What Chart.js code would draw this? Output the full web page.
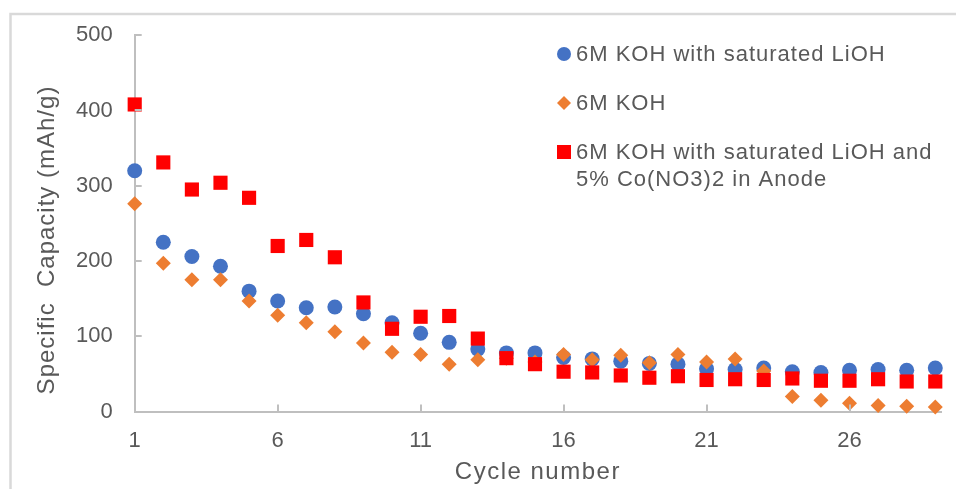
<!DOCTYPE html>
<html>
<head>
<meta charset="utf-8">
<title>Specific capacity vs cycle number</title>
<script src="https://cdn.jsdelivr.net/npm/chart.js@4.4.1/dist/chart.umd.min.js"></script>
<style>
  html, body { margin: 0; padding: 0; background: #fff; }
  #wrap { width: 956px; height: 489px; }
</style>
</head>
<body>
<div id="wrap"><canvas id="capacityChart" width="956" height="489"></canvas></div>
<script>
// cycle index and measured specific capacity (mAh/g) per electrolyte
const cycles = [1, 2, 3, 4, 5, 6, 7, 8, 9, 10, 11, 12, 13, 14, 15, 16, 17, 18, 19, 20, 21, 22, 23, 24, 25, 26, 27, 28, 29];
const withLiOH = [320, 225, 206, 193, 160, 147, 138, 139, 130, 118, 104, 92, 83, 78, 78, 72, 70, 67, 64, 63, 57, 56, 58, 53, 52, 55, 56, 55, 58];
const kohOnly = [276, 197, 175, 175, 147, 128, 118, 106, 91, 79, 76, 63, 69, 71, 66, 76, 69, 75, 65, 76, 66, 70, 54, 20, 15, 11, 8, 7, 6];
const withLiOHCo = [408, 331, 295, 304, 284, 220, 228, 205, 145, 110, 126, 127, 97, 71, 63, 53, 52, 48, 45, 47, 42, 43, 42, 44, 41, 41, 43, 40, 40];

const seriesNames = [
    ['6M KOH with saturated LiOH'],
    ['6M KOH'],
    ['6M KOH with saturated LiOH and', '5% Co(NO3)2 in Anode']
];
const xTickValues = [1, 6, 11, 16, 21, 26];
const xTitle = 'Cycle number';
const yTitle = 'Specific  Capacity (mAh/g)';

const FONT = '"Liberation Sans", Arial, sans-serif';
const TEXT = '#595959';
const AXIS = '#bfbfbf';
const colors = ['#4472C4', '#ED7D31', '#FF0000'];
const styles = ['circle', 'rectRot', 'rect'];

function toPoints(ys) {
    return cycles.map((c, i) => ({ x: c, y: ys[i] }));
}

// outer frame, inward tick marks, axis titles and the legend block
const decorations = {
    id: 'decorations',
    beforeDraw(chart) {
        const ctx = chart.ctx;
        ctx.save();
        ctx.strokeStyle = '#d9d9d9';
        ctx.lineWidth = 2.5;
        ctx.beginPath();
        ctx.moveTo(10.5, 489);
        ctx.lineTo(10.5, 14);
        ctx.lineTo(956, 14);
        ctx.stroke();
        ctx.restore();
    },
    afterDraw(chart) {
        const ctx = chart.ctx;
        const area = chart.chartArea;
        const xs = chart.scales.x;
        const ys = chart.scales.y;
        ctx.save();
        ctx.strokeStyle = AXIS;
        ctx.lineWidth = 2;
        ctx.beginPath();
        ys.ticks.forEach(t => {
            const py = Math.round(ys.getPixelForValue(t.value));
            ctx.moveTo(area.left, py);
            ctx.lineTo(area.left + 7, py);
        });
        xTickValues.forEach(v => {
            const px = Math.round(xs.getPixelForValue(v));
            ctx.moveTo(px, area.bottom);
            ctx.lineTo(px, area.bottom - 7);
        });
        ctx.stroke();

        ctx.fillStyle = TEXT;
        ctx.font = '24px ' + FONT;
        ctx.letterSpacing = '1.5px';
        ctx.textAlign = 'center';
        ctx.textBaseline = 'middle';
        ctx.fillText(xTitle, (area.left + area.right) / 2, 472);
        ctx.letterSpacing = '1px';
        ctx.save();
        ctx.translate(47, 240);
        ctx.rotate(-Math.PI / 2);
        ctx.fillText(yTitle, 0, 0);
        ctx.restore();

        // legend
        const lx = 564;
        const rows = [54, 103, 152];
        ctx.font = '22px ' + FONT;
        ctx.letterSpacing = '1px';
        ctx.textAlign = 'left';
        seriesNames.forEach((lines, i) => {
            const cy = rows[i];
            ctx.fillStyle = colors[i];
            ctx.beginPath();
            if (styles[i] === 'circle') {
                ctx.arc(lx, cy, 7, 0, Math.PI * 2);
            } else if (styles[i] === 'rectRot') {
                ctx.moveTo(lx, cy - 7);
                ctx.lineTo(lx + 7, cy);
                ctx.lineTo(lx, cy + 7);
                ctx.lineTo(lx - 7, cy);
                ctx.closePath();
            } else {
                ctx.rect(lx - 7, cy - 7, 14, 14);
            }
            ctx.fill();
            ctx.fillStyle = TEXT;
            lines.forEach((line, j) => {
                ctx.fillText(line, lx + 12, cy + 1 + j * 27);
            });
        });
        ctx.letterSpacing = '0px';
        ctx.restore();
    }
};

const ctx = document.getElementById('capacityChart').getContext('2d');
new Chart(ctx, {
    type: 'scatter',
    data: {
        datasets: [
            {
                label: seriesNames[0].join(' '),
                data: toPoints(withLiOH),
                pointStyle: 'circle',
                pointRadius: 7.5,
                backgroundColor: colors[0],
                borderColor: colors[0],
                borderWidth: 0,
                clip: false,
                order: 3
            },
            {
                label: seriesNames[1].join(' '),
                data: toPoints(kohOnly),
                pointStyle: 'rectRot',
                pointRadius: 7.5,
                backgroundColor: colors[1],
                borderColor: colors[1],
                borderWidth: 0,
                clip: false,
                order: 2
            },
            {
                label: seriesNames[2].join(' '),
                data: toPoints(withLiOHCo),
                pointStyle: 'rect',
                pointRadius: 10,
                backgroundColor: colors[2],
                borderColor: colors[2],
                borderWidth: 0,
                clip: false,
                order: 1
            }
        ]
    },
    options: {
        responsive: false,
        animation: false,
        devicePixelRatio: 1,
        events: [],
        layout: {
            padding: { left: 54, right: 15, top: 33, bottom: 19 }
        },
        plugins: {
            legend: { display: false },
            tooltip: { enabled: false }
        },
        scales: {
            x: {
                type: 'linear',
                min: 1,
                max: 29.2,
                afterBuildTicks: scale => {
                    scale.ticks = xTickValues.map(v => ({ value: v }));
                },
                grid: { display: false, drawTicks: false },
                border: { display: true, color: AXIS, width: 2 },
                ticks: {
                    color: TEXT,
                    font: { family: FONT, size: 22 },
                    padding: 16,
                    maxRotation: 0,
                    autoSkip: false
                }
            },
            y: {
                min: 0,
                max: 500,
                grid: { display: false, drawTicks: false },
                border: { display: true, color: AXIS, width: 2 },
                ticks: {
                    stepSize: 100,
                    color: TEXT,
                    font: { family: FONT, size: 22 },
                    padding: 22
                }
            }
        }
    },
    plugins: [decorations]
});
</script>
</body>
</html>
